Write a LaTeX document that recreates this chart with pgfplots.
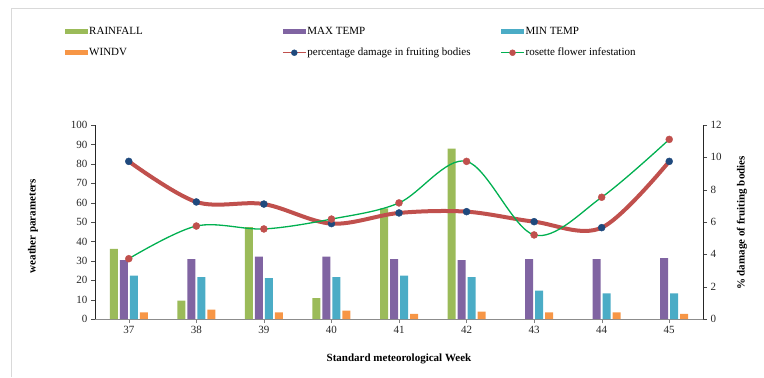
\documentclass[border=0pt]{standalone}
\usepackage{fontspec}
\setmainfont{Liberation Serif}
\usepackage{pgfplots}
\pgfplotsset{compat=1.18}
\definecolor{cRain}{HTML}{9BBB59}
\definecolor{cMax}{HTML}{8064A2}
\definecolor{cMin}{HTML}{4BACC6}
\definecolor{cWind}{HTML}{F79646}
\definecolor{cRed}{HTML}{C0504D}
\definecolor{cNavy}{HTML}{1F497D}
\definecolor{cGreen}{HTML}{00B050}
\definecolor{cBorder}{HTML}{D9D9D9}
\begin{document}
\begin{tikzpicture}[x=1bp,y=1bp]
\useasboundingbox (0,0) rectangle (764,377);
\draw[cBorder, line width=1bp] (11,0) -- (11,368) -- (764,368);
\begin{axis}[
  at={(95bp,58bp)}, anchor=south west,
  scale only axis, width=608bp, height=194bp,
  xmin=36.5, xmax=45.5, ymin=0, ymax=100,
  axis x line*=bottom, axis y line*=left,
  x axis line style={draw=gray!90, -},
  y axis line style={draw=black!85, -},
  xtick={37,...,45}, ytick={0,10,...,100},
  tick align=outside, major tick length=4bp,
  tick style={black!70},
  xtick style={gray},
  /pgf/number format/assume math mode=true,
  tick label style={font=\fontsize{11bp}{13bp}\selectfont, text=black!85},
  xlabel={Standard meteorological Week},
  ylabel={weather parameters},
  label style={font=\fontsize{11bp}{13bp}\selectfont\bfseries},
  x label style={at={(axis description cs:0.5,-0.206)}, anchor=center},
  y label style={at={(axis description cs:-0.102,0.479)}, anchor=center, rotate=0},
  legend columns=3,
  legend style={draw=none, fill=none, at={(axis description cs:-0.0493,1.514)}, anchor=north west,
    font=\fontsize{11bp}{13bp}\selectfont, inner sep=0pt, row sep=8.5bp,
    nodes={inner sep=1bp, text height=8bp, text depth=2.5bp}},
  legend cell align=left,
]
\addplot[ybar, bar width=8bp, bar shift=-15bp, draw=none, fill=cRain,
  legend image code/.code={\fill[cRain] (0bp,-2.5bp) rectangle (23bp,2.5bp);}]
  coordinates {(37,36.1) (38,9.5) (39,47.4) (40,10.8) (41,57) (42,87.8)};
\addlegendentry{\makebox[192bp][l]{RAINFALL}}
\addplot[ybar, bar width=8bp, bar shift=-5bp, draw=none, fill=cMax,
  legend image code/.code={\fill[cMax] (0bp,-2.5bp) rectangle (23bp,2.5bp);}]
  coordinates {(37,30.4) (38,30.9) (39,32.1) (40,32.1) (41,30.9) (42,30.4) (43,30.9) (44,30.9) (45,31.4)};
\addlegendentry{\makebox[192bp][l]{MAX TEMP}}
\addplot[ybar, bar width=8bp, bar shift=5bp, draw=none, fill=cMin,
  legend image code/.code={\fill[cMin] (0bp,-2.5bp) rectangle (23bp,2.5bp);}]
  coordinates {(37,22.3) (38,21.6) (39,21.1) (40,21.6) (41,22.3) (42,21.6) (43,14.6) (44,13.2) (45,13.2)};
\addlegendentry{\makebox[192bp][l]{MIN TEMP}}
\addplot[ybar, bar width=8bp, bar shift=15bp, draw=none, fill=cWind,
  legend image code/.code={\fill[cWind] (0bp,-2.5bp) rectangle (23bp,2.5bp);}]
  coordinates {(37,3.4) (38,4.8) (39,3.4) (40,4.3) (41,2.7) (42,3.8) (43,3.4) (44,3.4) (45,2.7)};
\addlegendentry{\makebox[192bp][l]{WINDV}}
\addlegendimage{legend image code/.code={\draw[cRed, line width=1.2bp] (0bp,0) -- (23bp,0); \fill[cNavy] (11.5bp,0) circle (3bp);}}
\addlegendentry{\makebox[192bp][l]{percentage  damage in fruiting bodies}}
\addlegendimage{legend image code/.code={\draw[cGreen, line width=1.2bp] (0bp,0) -- (23bp,0); \fill[cRed] (11.5bp,0) circle (3bp);}}
\addlegendentry{\makebox[192bp][l]{rosette flower infestation}}
\end{axis}
\begin{axis}[
  at={(95bp,58bp)}, anchor=south west,
  scale only axis, width=608bp, height=194bp,
  xmin=36.5, xmax=45.5, ymin=0, ymax=12,
  axis x line=none, axis y line*=right,
  y axis line style={draw=black!85, -},
  ytick={0,2,...,12},
  tick align=outside, major tick length=4bp,
  tick style={black!70},
  /pgf/number format/assume math mode=true,
  tick label style={font=\fontsize{11bp}{13bp}\selectfont, text=black!85},
  ylabel={\% damage of fruiting bodies},
  label style={font=\fontsize{11bp}{13bp}\selectfont\bfseries},
  y label style={at={(axis description cs:1.064,0.495)}, anchor=center, rotate=0},
]
\addplot[cRed, line width=4bp, smooth, tension=0.55, no marks]
  coordinates {(37,9.75) (38,7.24) (39,7.11) (40,5.9) (41,6.56) (42,6.64) (43,6.02) (44,5.65) (45,9.75)};
\addplot[cGreen, line width=1.3bp, smooth, tension=0.55, no marks]
  coordinates {(37,3.73) (38,5.75) (39,5.57) (40,6.18) (41,7.18) (42,9.75) (43,5.2) (44,7.53) (45,11.11)};
\addplot[only marks, mark=*, mark size=3.5bp, color=cNavy, mark options={fill=cNavy, draw=cNavy}]
  coordinates {(37,9.75) (38,7.24) (39,7.11) (40,5.9) (41,6.56) (42,6.64) (43,6.02) (44,5.65) (45,9.75)};
\addplot[only marks, mark=*, mark size=3.5bp, color=cRed, mark options={fill=cRed, draw=cRed}]
  coordinates {(37,3.73) (38,5.75) (39,5.57) (40,6.18) (41,7.18) (42,9.75) (43,5.2) (44,7.53) (45,11.11)};
\end{axis}
\end{tikzpicture}
\end{document}
